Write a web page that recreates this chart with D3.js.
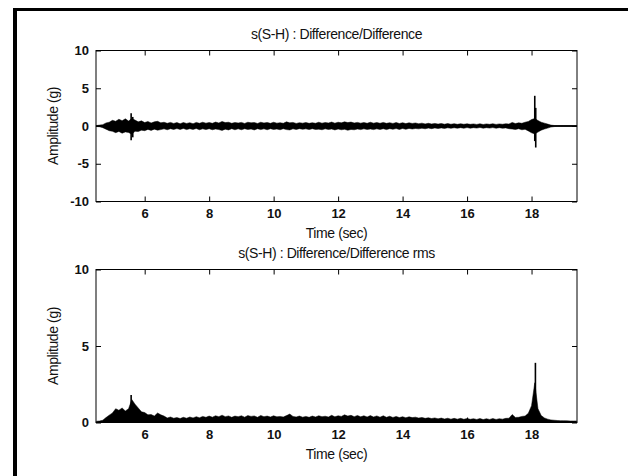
<!DOCTYPE html>
<html><head><meta charset="utf-8">
<script src="https://cdn.jsdelivr.net/npm/d3@7"></script>
<style>
body{margin:0;background:#fff;}
svg{display:block;font-family:"Liberation Sans",Arial,sans-serif;}
</style></head>
<body><svg id="c" width="628" height="476"></svg>
<script>
// ---- data ----
const tStart = 4.5, tStep = 0.1;            // sample grid of envelopes (sec)
const xTicks = [6, 8, 10, 12, 14, 16, 18];
const yTicksTop = [-10, -5, 0, 5, 10];
const yTicksBot = [0, 5, 10];
const titles = ["s(S-H) : Difference/Difference", "s(S-H) : Difference/Difference rms"];
// upper envelope of difference signal (g)
const diffUpper = [
 0.06,0.12,0.18,0.4,0.5,
 0.75,0.62,0.9,0.7,0.95,0.65,1.0,0.78,0.55,0.68,
 0.45,0.6,0.4,0.55,0.62,0.42,0.5,0.36,0.48,0.34,
 0.45,0.3,0.46,0.34,0.44,0.3,0.48,0.36,0.5,0.38,
 0.46,0.36,0.52,0.4,0.6,0.45,0.5,0.36,0.46,0.4,
 0.48,0.34,0.5,0.42,0.46,0.34,0.5,0.4,0.47,0.35,
 0.5,0.38,0.44,0.36,0.55,0.42,0.48,0.34,0.44,0.38,
 0.46,0.35,0.44,0.36,0.5,0.38,0.46,0.4,0.52,0.38,
 0.5,0.42,0.55,0.45,0.52,0.4,0.48,0.38,0.46,0.36,
 0.5,0.38,0.46,0.36,0.48,0.35,0.44,0.34,0.46,0.33,
 0.44,0.32,0.42,0.34,0.4,0.3,0.38,0.28,0.36,0.27,
 0.34,0.25,0.33,0.24,0.32,0.23,0.31,0.22,0.3,0.23,
 0.29,0.22,0.28,0.21,0.29,0.2,0.28,0.22,0.3,0.21,
 0.28,0.23,0.3,0.26,0.48,0.32,0.42,0.36,0.5,0.6,
 0.85,1.0,0.72,0.5,0.38,0.25,0.12,0.07,0.05,0.05,
 0.05,0.05,0.05,0.05,0.05];
// lower envelope of difference signal (g)
const diffLower = [
 -0.07,-0.1,-0.22,-0.42,-0.62,
 -0.7,-0.88,-0.72,-0.95,-0.78,-0.85,-1.1,-0.7,-0.74,-0.55,
 -0.62,-0.45,-0.58,-0.42,-0.55,-0.48,-0.38,-0.5,-0.36,-0.46,
 -0.34,-0.46,-0.32,-0.48,-0.36,-0.45,-0.33,-0.5,-0.38,-0.48,
 -0.36,-0.5,-0.4,-0.48,-0.58,-0.42,-0.52,-0.36,-0.5,-0.38,
 -0.5,-0.36,-0.46,-0.4,-0.52,-0.36,-0.48,-0.38,-0.5,-0.36,
 -0.46,-0.4,-0.5,-0.36,-0.48,-0.52,-0.38,-0.46,-0.35,-0.44,
 -0.38,-0.48,-0.36,-0.46,-0.42,-0.5,-0.38,-0.46,-0.4,-0.52,
 -0.4,-0.5,-0.44,-0.56,-0.46,-0.5,-0.4,-0.48,-0.38,-0.46,
 -0.4,-0.48,-0.38,-0.46,-0.36,-0.48,-0.35,-0.44,-0.34,-0.46,
 -0.33,-0.44,-0.32,-0.4,-0.33,-0.38,-0.3,-0.37,-0.28,-0.35,
 -0.26,-0.34,-0.25,-0.32,-0.24,-0.31,-0.23,-0.3,-0.22,-0.3,
 -0.21,-0.29,-0.22,-0.28,-0.2,-0.29,-0.22,-0.28,-0.21,-0.3,
 -0.22,-0.3,-0.25,-0.36,-0.4,-0.46,-0.36,-0.5,-0.44,-0.65,
 -0.9,-1.05,-0.8,-0.55,-0.4,-0.28,-0.14,-0.08,-0.05,-0.05,
 -0.05,-0.05,-0.05,-0.05,-0.05];
// narrow spikes of difference signal
const spikeTime = [5.58, 5.63, 18.1, 18.13];
const spikeUp   = [1.7, 1.2, 4.0, 2.4];
const spikeDown = [-1.9, -1.5, -2.0, -2.85];
// rms of difference (g)
const rmsValues = [
 0.08,0.1,0.15,0.32,0.48,
 0.62,0.9,0.8,0.95,0.75,0.9,1.5,1.2,0.95,0.7,
 0.65,0.5,0.52,0.42,0.62,0.5,0.42,0.3,0.36,0.28,
 0.32,0.26,0.34,0.28,0.36,0.3,0.38,0.31,0.4,0.34,
 0.42,0.35,0.44,0.38,0.48,0.38,0.43,0.34,0.42,0.38,
 0.44,0.35,0.45,0.4,0.43,0.34,0.46,0.38,0.42,0.36,
 0.44,0.37,0.4,0.36,0.45,0.55,0.4,0.36,0.42,0.35,
 0.4,0.34,0.42,0.36,0.44,0.38,0.41,0.36,0.47,0.37,
 0.44,0.4,0.5,0.42,0.47,0.38,0.46,0.37,0.44,0.36,
 0.45,0.36,0.43,0.35,0.44,0.34,0.41,0.33,0.4,0.32,
 0.38,0.31,0.37,0.32,0.35,0.29,0.33,0.27,0.31,0.26,
 0.3,0.24,0.29,0.23,0.28,0.22,0.27,0.22,0.27,0.21,
 0.26,0.21,0.25,0.2,0.26,0.19,0.25,0.2,0.26,0.2,
 0.25,0.22,0.27,0.28,0.52,0.33,0.34,0.4,0.42,0.6,
 1.1,2.6,0.9,0.45,0.3,0.22,0.17,0.15,0.13,0.12,
 0.12,0.11,0.1,0.1,0.1];
const rmsSpikeTime = [5.58, 18.12];
const rmsSpikeVal  = [1.8, 3.9];

// ---- drawing ----
const svg = d3.select("#c");
// frame
svg.append("line").attr("x1",15).attr("x2",15).attr("y1",8).attr("y2",476).attr("stroke","#000").attr("stroke-width",4);
svg.append("line").attr("x1",13).attr("x2",628).attr("y1",9.5).attr("y2",9.5).attr("stroke","#000").attr("stroke-width",3);

const L = 96, R = 577;
const x = d3.scaleLinear().domain([4.49, 19.41]).range([L, R]);
const times = diffUpper.map((_, i) => tStart + i * tStep);

function panel(top, bottom, yDomain, yTicks, title) {
  const y = d3.scaleLinear().domain(yDomain).range([bottom, top]);
  const g = svg.append("g");
  const fmt = d => d3.format("d")(d).replace("−","-");
  g.append("g").attr("transform",`translate(0,${bottom})`)
    .call(d3.axisBottom(x).tickValues(xTicks).tickSizeInner(-5).tickSizeOuter(0).tickPadding(7).tickFormat(fmt));
  g.append("g").attr("transform",`translate(0,${top})`)
    .call(d3.axisTop(x).tickValues(xTicks).tickSizeInner(-5).tickSizeOuter(0).tickFormat(""));
  g.append("g").attr("transform",`translate(${L},0)`)
    .call(d3.axisLeft(y).tickValues(yTicks).tickSizeInner(-5).tickSizeOuter(0).tickPadding(7).tickFormat(fmt));
  g.append("g").attr("transform",`translate(${R},0)`)
    .call(d3.axisRight(y).tickValues(yTicks).tickSizeInner(-5).tickSizeOuter(0).tickFormat(""));
  g.selectAll(".domain").remove();
  g.selectAll(".tick line").attr("stroke","#000");
  g.selectAll(".tick text").attr("font-size",13).attr("font-weight","bold").attr("fill","#111")
    .attr("font-family","Liberation Sans, Arial, sans-serif");
  g.append("rect").attr("x",L).attr("y",top).attr("width",R-L).attr("height",bottom-top)
    .attr("fill","none").attr("stroke","#000").attr("stroke-width",1);
  svg.append("text").attr("x",(L+R)/2).attr("y",top-12).attr("text-anchor","middle")
    .attr("font-size",14).attr("letter-spacing",-0.4).attr("fill","#111").text(title);
  svg.append("text").attr("x",(L+R)/2).attr("y",bottom+36).attr("text-anchor","middle")
    .attr("font-size",14).attr("letter-spacing",-0.4).attr("fill","#111").text("Time (sec)");
  svg.append("text").attr("transform",`translate(58,${(top+bottom)/2}) rotate(-90)`).attr("text-anchor","middle")
    .attr("font-size",14).attr("letter-spacing",-0.4).attr("fill","#111").text("Amplitude (g)");
  return {y, g};
}

// top panel
const p1 = panel(50.5, 201.5, [-10, 10], yTicksTop, titles[0]);
const area1 = d3.area().x((d,i) => x(times[i])).y0((d,i) => p1.y(diffLower[i])).y1((d,i) => p1.y(diffUpper[i]));
svg.append("path").datum(diffUpper).attr("d", area1).attr("fill","#000").attr("stroke","#000").attr("stroke-width",0.5);
svg.append("line").attr("x1",x(4.49)).attr("x2",x(19.41)).attr("y1",p1.y(0)).attr("y2",p1.y(0)).attr("stroke","#000").attr("stroke-width",1.5);
svg.selectAll(".sp1").data(spikeTime).enter().append("line")
  .attr("x1",d=>x(d)).attr("x2",d=>x(d))
  .attr("y1",(d,i)=>p1.y(spikeUp[i])).attr("y2",(d,i)=>p1.y(spikeDown[i]))
  .attr("stroke","#000").attr("stroke-width",1.6);

// bottom panel
const p2 = panel(269.5, 422.5, [0, 10], yTicksBot, titles[1]);
const area2 = d3.area().x((d,i) => x(times[i])).y0(p2.y(0)).y1(d => p2.y(d));
svg.append("path").datum(rmsValues).attr("d", area2).attr("fill","#000").attr("stroke","#000").attr("stroke-width",0.5);
svg.selectAll(".sp2").data(rmsSpikeTime).enter().append("line")
  .attr("x1",d=>x(d)).attr("x2",d=>x(d))
  .attr("y1",p2.y(0)).attr("y2",(d,i)=>p2.y(rmsSpikeVal[i]))
  .attr("stroke","#000").attr("stroke-width",1.6);
</script></body></html>
